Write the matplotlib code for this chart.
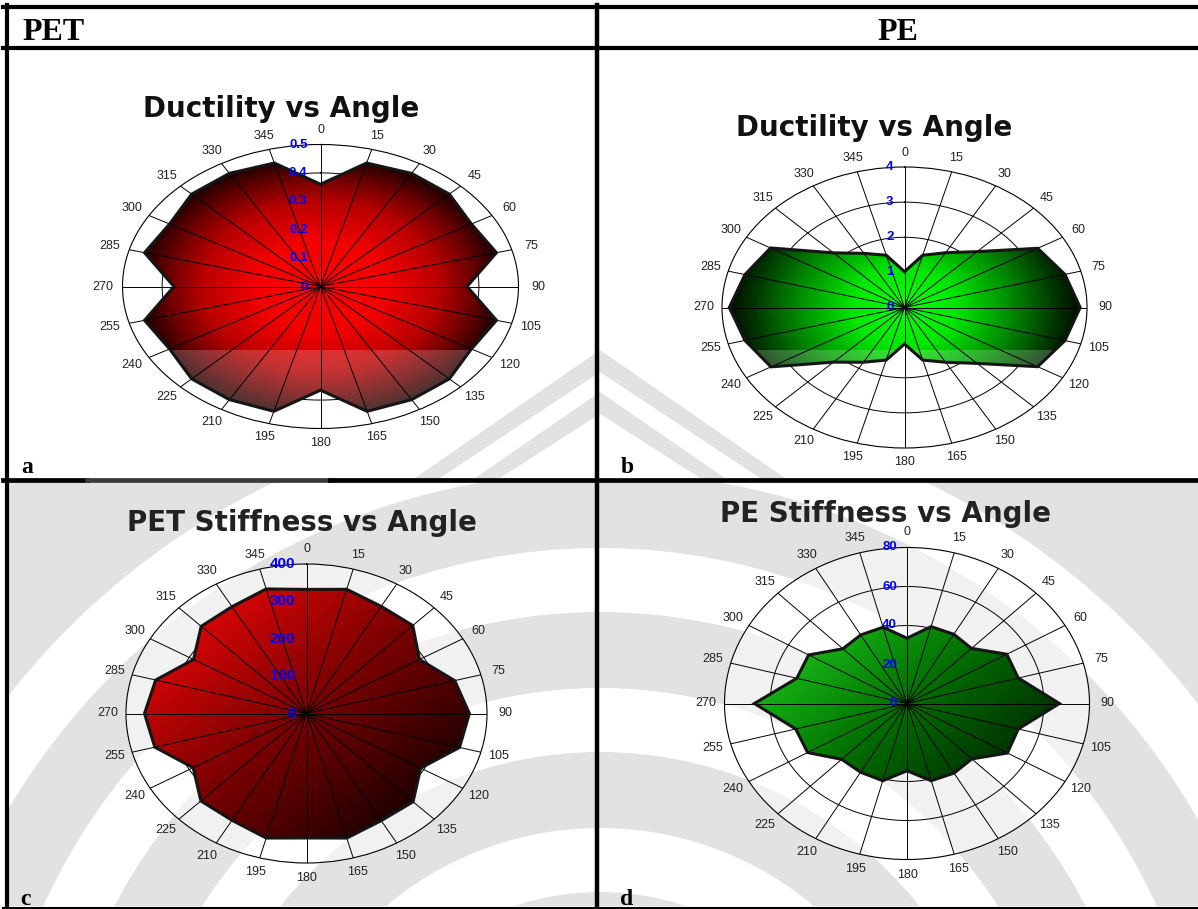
import numpy as np
import matplotlib.pyplot as plt
from matplotlib.colors import LinearSegmentedColormap
from matplotlib.patches import Rectangle, Wedge, Polygon
from matplotlib.transforms import offset_copy

# angles of the measurements (degrees, clockwise from top)
angles = np.arange(0, 360, 15)

# values
pet_ductility = [0.36, 0.45, 0.46, 0.46, 0.44, 0.46, 0.37, 0.46, 0.44, 0.46, 0.46, 0.455,
                 0.365, 0.455, 0.46, 0.46, 0.44, 0.46, 0.37, 0.46, 0.44, 0.46, 0.46, 0.45]
pe_ductility = [1.02, 1.54, 1.8, 2.25, 3.37, 3.64, 3.85, 3.64, 3.37, 2.25, 1.8, 1.55,
                1.04, 1.55, 1.8, 2.2, 3.38, 3.62, 3.84, 3.62, 3.39, 2.2, 1.78, 1.54]
pet_stiffness = [332, 344, 331, 333, 289, 340, 361, 351, 292, 334, 331, 345,
                 333, 345, 330, 331, 290, 348, 359, 346, 289, 330, 330, 345]
pe_stiffness = [33.5, 40.8, 41, 40, 50.5, 50.5, 66.8, 50.5, 50.8, 40.2, 41.2, 41,
                34.5, 41, 40.7, 40.5, 50.3, 50.5, 66.9, 50, 49.8, 39.7, 40.6, 40.5]

pet_duct_rings = [0, 0.1, 0.2, 0.3, 0.4, 0.5]
pe_duct_rings = [0, 1, 2, 3, 4]
pet_stiff_rings = [0, 100, 200, 300, 400]
pe_stiff_rings = [0, 20, 40, 60, 80]

W, H = 1198, 909
fig = plt.figure(figsize=(W / 100, H / 100), dpi=100)

bg = fig.add_axes([0, 0, 1, 1], zorder=0)
bg.set_xlim(0, W)
bg.set_ylim(H, 0)
bg.axis('off')

# rough copy of the faint page watermark (grey with white arches)
wm = '#e2e2e2'
lower = Rectangle((9, 482), W - 9, 424, facecolor=wm, lw=0, zorder=0)
bg.add_patch(lower)
for rad in [300, 440, 580, 720]:
    arc = Wedge((600, 1160), rad + 32, 180, 360, width=64, facecolor='white', lw=0, zorder=0.1)
    bg.add_patch(arc)
    arc.set_clip_path(lower)
for dx in [0, 60]:
    bg.add_patch(Polygon([(600, 350 + dx * 0.7), (600, 372 + dx * 0.7),
                          (440 + dx, 478), (415 + dx, 478)], closed=True,
                         facecolor=wm, lw=0, zorder=0))
    bg.add_patch(Polygon([(600, 350 + dx * 0.7), (600, 372 + dx * 0.7),
                          (760 - dx, 478), (785 - dx, 478)], closed=True,
                         facecolor=wm, lw=0, zorder=0))

# table lines
bg.plot([3, W], [7, 7], color='k', lw=3.0)
bg.plot([3, W], [48, 48], color='k', lw=3.0)
bg.plot([3, 87], [479.5, 479.5], color='k', lw=3.4)
bg.plot([87, 330], [479.5, 479.5], color='#3a3a3a', lw=3.4)
bg.plot([330, W], [479.5, 479.5], color='k', lw=3.4)
bg.plot([3, W], [907.5, 907.5], color='k', lw=1.5)
bg.plot([7, 7], [5, H], color='k', lw=3.0)
bg.plot([597, 597], [5, H], color='k', lw=3.2)

serif = 'Liberation Serif'
bg.text(22, 40, 'PET', fontsize=23, weight='bold', family=serif, va='baseline')
bg.text(898, 40, 'PE', fontsize=23, weight='bold', family=serif, va='baseline', ha='center')
for lab, x, y in [('a', 21, 473), ('b', 621, 473), ('c', 20, 905), ('d', 620, 905)]:
    bg.text(x, y, lab, fontsize=17, weight='bold', family=serif, va='baseline')

red_radial = LinearSegmentedColormap.from_list(
    'rr', [(0, (1, 0, 0)), (0.35, (0.95, 0, 0)), (0.65, (0.72, 0, 0)),
           (0.85, (0.4, 0, 0)), (1, (0.12, 0, 0))])
green_radial = LinearSegmentedColormap.from_list(
    'gr', [(0, (0.05, 1, 0.05)), (0.3, (0, 0.9, 0)), (0.6, (0, 0.55, 0)),
           (0.85, (0, 0.22, 0)), (1, (0, 0.05, 0))])
red_lin = LinearSegmentedColormap.from_list(
    'rl', [(0, (0.1, 0, 0)), (0.5, (0.47, 0, 0)), (1, (0.86, 0.02, 0.02))])
green_lin = LinearSegmentedColormap.from_list(
    'gl', [(0, (0, 0.1, 0)), (0.5, (0, 0.43, 0)), (1, (0.12, 0.82, 0.12))])


def polar_panel(cx, cy, rx, ry, values, rings, cmap, mode, title, tx, ty,
                rsize, roff, tcolor='#111111', band=None):
    ax = fig.add_axes([(cx - rx) / W, (H - cy - ry) / H, 2 * rx / W, 2 * ry / H],
                      projection='polar', zorder=2)
    ax.set_aspect('auto')
    ax.set_theta_zero_location('N')
    ax.set_theta_direction(-1)
    rmax = rings[-1]
    ax.set_ylim(0, rmax)
    ax.patch.set_facecolor('white')
    ax.patch.set_alpha(0.55)
    ax.grid(False)
    ax.set_xticks([])
    ax.set_yticks([])
    ax.spines['polar'].set_linewidth(0.8)

    th = np.deg2rad(angles)
    full = np.linspace(0, 2 * np.pi, 361)
    for r in rings[1:-1]:
        ax.plot(full, np.full_like(full, r), color='k', lw=0.7, zorder=1)

    tc = np.append(th, th[0])
    vc = np.append(values, values[0])
    edge = ax.fill(tc, vc, facecolor='none', edgecolor='#151515', lw=2.2, zorder=4)[0]

    T, R = np.meshgrid(np.linspace(0, 2 * np.pi, 361), np.linspace(0, rmax, 121))
    Tm = (T[:-1, :-1] + T[1:, 1:]) / 2
    Rm = (R[:-1, :-1] + R[1:, 1:]) / 2
    if mode == 'radial':
        C = Rm / max(values)
    else:
        x = Rm / rmax * np.sin(Tm)
        y = Rm / rmax * np.cos(Tm)
        C = 0.5 + 0.5 * (-x * 0.707 + y * 0.707) / 0.9
    mesh = ax.pcolormesh(T, R, C, cmap=cmap, vmin=0, vmax=1, shading='flat', zorder=2)
    mesh.set_clip_path(edge)

    # lighter strip of the page watermark, only over the coloured area
    if band is not None:
        x0, y0, x1, y1 = band
        rect = Rectangle((x0, y0), x1 - x0, y1 - y0, transform=bg.transData,
                         facecolor='white', alpha=0.2, lw=0, zorder=2.5)
        ax.add_artist(rect)
        rect.set_clip_path(edge)

    for t in th:
        ax.plot([t, t], [0, rmax], color='k', lw=0.7, zorder=3)

    for t, a in zip(th, angles):
        ax.text(t, 1.1 * rmax, str(a), ha='center', va='center', fontsize=9,
                color='#222222', family='Liberation Sans', clip_on=False)

    tr = offset_copy(ax.transData, fig=fig, x=-roff, y=0, units='dots')
    for r in rings:
        ax.text(0, r, f'{r:g}', transform=tr, ha='right', va='center', color='#0000ff',
                weight='bold', fontsize=rsize, family='Liberation Sans', zorder=6,
                clip_on=False)

    bg.text(tx, ty, title, ha='center', va='center', fontsize=20, weight='bold',
            color=tcolor, zorder=3)
    return ax


polar_panel(320.5, 286.5, 198, 142, pet_ductility, pet_duct_rings, red_radial, 'radial',
            'Ductility vs Angle', 281, 109, 9.5, 13, band=(87, 350, 560, 483))
polar_panel(904.5, 307.5, 182.5, 140.5, pe_ductility, pe_duct_rings, green_radial, 'radial',
            'Ductility vs Angle', 874, 128, 9.5, 11, band=(640, 350, 1150, 476))
polar_panel(306.5, 713.5, 180.5, 149.5, pet_stiffness, pet_stiff_rings, red_lin, 'linear',
            'PET Stiffness vs Angle', 302, 523, 11, 11, '#222222')
polar_panel(907, 703.5, 182.5, 156, pe_stiffness, pe_stiff_rings, green_lin, 'linear',
            'PE Stiffness vs Angle', 886, 514, 9.5, 10, '#222222')

fig.savefig('out.png', dpi=100)
